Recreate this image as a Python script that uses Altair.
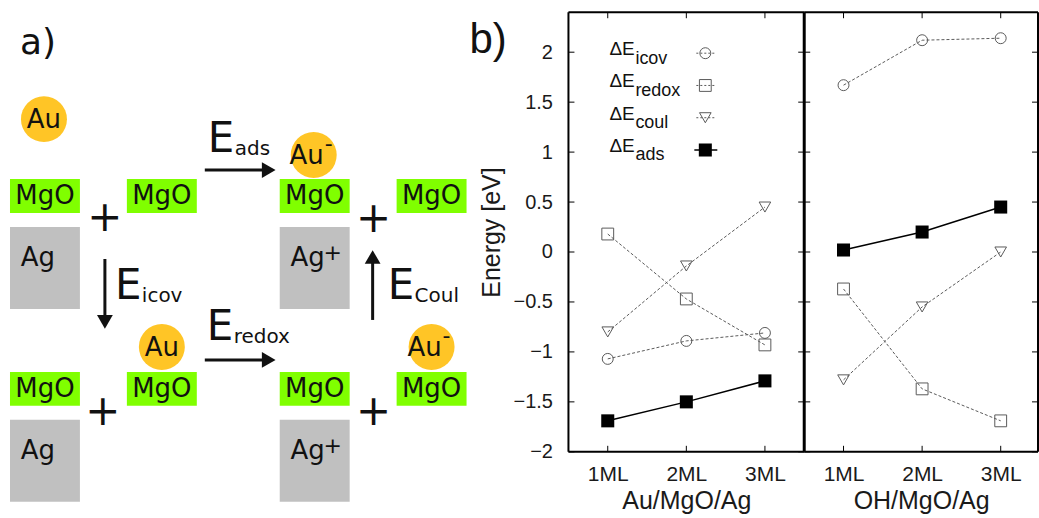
import altair as alt
import pandas as pd

# ---------------- energy decomposition (eV) vs. MgO thickness ----------------
ml = [1, 2, 3]
terms = ["icov", "redox", "coul", "ads"]
au_icov = [-1.07, -0.89, -0.81]
au_redox = [0.18, -0.47, -0.93]
au_coul = [-0.80, -0.14, 0.45]
au_ads = [-1.69, -1.50, -1.29]
oh_icov = [1.67, 2.12, 2.14]
oh_redox = [-0.37, -1.37, -1.69]
oh_coul = [-1.28, -0.55, 0.00]
oh_ads = [0.02, 0.20, 0.45]
energy_ticks = [-2, -1.5, -1, -0.5, 0, 0.5, 1, 1.5, 2]
ml_ticks = [1, 2, 3]

# ---------------- reaction scheme (sketch units, y grows downward) ----------------
mgo_x = [10, 127, 280, 397, 10, 127, 280, 397]
mgo_y = [177, 177, 177, 177, 370, 370, 370, 370]
ag_x = [10, 280, 10, 280]
ag_y = [225, 225, 418, 418]
ag_charge = ["", "+", "", "+"]
au_x = [44, 314, 162, 432]
au_y = [117, 153, 345, 345]
au_charge = ["", "-", "", "-"]
plus_x = [105, 374, 103, 374]
plus_y = [229, 230, 423, 423]
arrow_x0 = [205, 205, 105, 373]
arrow_y0 = [168, 358, 257, 318]
arrow_x1 = [276, 276, 105, 373]
arrow_y1 = [168, 358, 327, 248]
arrow_sub = ["ads", "redox", "icov", "Coul"]
arrow_lx = [208, 207, 115, 388]
arrow_ly = [150, 338, 297, 297]

MGO_W, MGO_H, AG_H = 70, 34, 82
GREEN, GRAY, GOLD = "#80ff00", "#c0c0c0", "#ffc526"
SKETCH_FONT = "DejaVu Sans"
PLOT_FONT = "Liberation Sans"
INK = "#111111"

SW, SH = 569, 440
SX = alt.Scale(domain=[0, SW], nice=False, zero=False)
SY = alt.Scale(domain=[SH + 10, 10], nice=False, zero=False)


def sx(f):
    return alt.X(f, scale=SX, axis=None)


def sy(f):
    return alt.Y(f, scale=SY, axis=None)


def sketch_text(df, size, align="center", font=SKETCH_FONT):
    return alt.Chart(df).mark_text(
        font=font, fontSize=size, align=align, baseline="alphabetic", color=INK
    ).encode(x=sx("x:Q"), y=sy("y:Q"), text="t:N")


mgo = pd.DataFrame({"x0": mgo_x, "y0": mgo_y})
mgo["x1"] = mgo.x0 + MGO_W
mgo["y1"] = mgo.y0 + MGO_H
ag = pd.DataFrame({"x0": ag_x, "y0": ag_y, "q": ag_charge})
ag["x1"] = ag.x0 + MGO_W
ag["y1"] = ag.y0 + AG_H
au = pd.DataFrame({"x": au_x, "y": au_y, "q": au_charge})

arrows = pd.DataFrame({"x0": arrow_x0, "y0": arrow_y0, "x1": arrow_x1, "y1": arrow_y1})
dx = (arrows.x1 - arrows.x0).clip(-1, 1)
dy = (arrows.y1 - arrows.y0).clip(-1, 1)
HEAD = 7
arrows["hx"] = arrows.x1 - dx * HEAD
arrows["hy"] = arrows.y1 - dy * HEAD
arrows["shape"] = [
    "triangle-right" if a > 0 else "triangle-left" if a < 0 else ("triangle-down" if b > 0 else "triangle-up")
    for a, b in zip(dx, dy)
]

rect_mgo = alt.Chart(mgo).mark_rect(color=GREEN).encode(
    x=sx("x0:Q"), x2="x1:Q", y=sy("y0:Q"), y2="y1:Q")
rect_ag = alt.Chart(ag).mark_rect(color=GRAY).encode(
    x=sx("x0:Q"), x2="x1:Q", y=sy("y0:Q"), y2="y1:Q")
atoms = alt.Chart(au).mark_circle(color=GOLD, opacity=1, size=46 * 46).encode(
    x=sx("x:Q"), y=sy("y:Q"))
shafts = alt.Chart(arrows).mark_rule(color=INK, strokeWidth=3).encode(
    x=sx("x0:Q"), x2="hx:Q", y=sy("y0:Q"), y2="hy:Q")
heads = alt.Chart(arrows).mark_point(filled=True, color=INK, opacity=1, size=250).encode(
    x=sx("hx:Q"), y=sy("hy:Q"), shape=alt.Shape("shape:N", scale=None))

mgo_lbl = pd.DataFrame({"x": mgo.x0 + MGO_W / 2, "y": mgo.y0 + 25, "t": "MgO"})
ag_lbl = pd.DataFrame({"x": ag.x0 + 28, "y": ag.y0 + 39, "t": "Ag"})
ag_q = pd.DataFrame({"x": ag.x0 + 53, "y": ag.y0 + 33, "t": ag.q})
ag_q = ag_q[ag_q.t != ""]
au_shift = [-7 if q else 0 for q in au.q]
au_lbl = pd.DataFrame({"x": au.x + au_shift, "y": au.y + 9, "t": "Au"})
au_q = pd.DataFrame({"x": au.x + 15, "y": au.y - 4, "t": au.q})
au_q = au_q[au_q.t != ""]
plus_lbl = pd.DataFrame({"x": plus_x, "y": plus_y, "t": "+"})
e_lbl = pd.DataFrame({"x": arrow_lx, "y": arrow_ly, "t": "E"})
e_sub = pd.DataFrame({"x": [v + 27 for v in arrow_lx], "y": [v + 3 for v in arrow_ly], "t": arrow_sub})
tag_a = pd.DataFrame({"x": [20], "y": [52], "t": ["a)"]})
tag_b = pd.DataFrame({"x": [470], "y": [51], "t": ["b)"]})

sketch = alt.layer(
    rect_mgo, rect_ag, atoms, shafts, heads,
    sketch_text(mgo_lbl, 26), sketch_text(ag_lbl, 26), sketch_text(ag_q, 22),
    sketch_text(au_lbl, 26), sketch_text(au_q, 22), sketch_text(plus_lbl, 42),
    sketch_text(e_lbl, 42, "left"), sketch_text(e_sub, 20, "left"),
    sketch_text(tag_a, 36, "left"), sketch_text(tag_b, 42, "left", PLOT_FONT),
).properties(width=SW, height=SH)

# ---------------- energy panels ----------------
PH = 440
STYLE = {
    "icov": dict(shape="circle", size=120, filled=False, color="#5a5a5a"),
    "redox": dict(shape="square", size=140, filled=False, color="#5a5a5a"),
    "coul": dict(shape="triangle-down", size=135, filled=False, color="#5a5a5a"),
    "ads": dict(shape="square", size=170, filled=True, color="#000000"),
}


def long_table(icov, redox, coul, ads):
    rows = []
    for term, vals in zip(terms, [icov, redox, coul, ads]):
        for m, v in zip(ml, vals):
            rows.append({"ml": m, "e": v, "term": term})
    return pd.DataFrame(rows)


def panel(df, title, width, left_axis, legend):
    xmax = 0.5 + 3 * width / 236
    xs = alt.Scale(domain=[0.5, xmax], nice=False, zero=False)
    ys = alt.Scale(domain=[-2, 2.4], nice=False, zero=False)
    xaxis = alt.Axis(values=ml_ticks, labelExpr="datum.value + 'ML'", title=title,
                     ticks=False, tickSize=0, domain=False, grid=False, labelAngle=0,
                     labelPadding=12, titlePadding=4, labelFontSize=21, titleFontSize=25)
    if left_axis:
        yaxis = alt.Axis(values=energy_ticks, labelExpr="format(datum.value, '~g')",
                         title="Energy [eV]", ticks=False, tickSize=0, domain=False, grid=False,
                         labelPadding=16, minExtent=56, maxExtent=56, titlePadding=8,
                         labelFontSize=20, titleFontSize=25)
    else:
        yaxis = None

    def X():
        return alt.X("ml:Q", scale=xs, axis=xaxis)

    def Y():
        return alt.Y("e:Q", scale=ys, axis=yaxis)

    dashed = alt.Chart(df[df.term != "ads"]).mark_line(
        strokeDash=[3, 2], color="#5a5a5a", strokeWidth=1
    ).encode(x=X(), y=Y(), detail="term:N")
    solid = alt.Chart(df[df.term == "ads"]).mark_line(color="#000000", strokeWidth=1.5).encode(
        x=X(), y=Y())
    layers = [dashed, solid]
    for term in terms:
        st = STYLE[term]
        layers.append(
            alt.Chart(df[df.term == term]).mark_point(
                shape=st["shape"], size=st["size"], filled=st["filled"], color=st["color"],
                opacity=1, strokeWidth=1
            ).encode(x=X(), y=Y())
        )

    ytk = pd.DataFrame({"e": energy_ticks})
    xtk = pd.DataFrame({"ml": ml_ticks})
    for a, b in [(0, 6), (width - 6, width)]:
        layers.append(alt.Chart(ytk).mark_rule(color="#000", strokeWidth=1).encode(
            y=Y(), x=alt.value(a), x2=alt.value(b)))
    for a, b in [(PH - 6, PH), (0, 6)]:
        layers.append(alt.Chart(xtk).mark_rule(color="#000", strokeWidth=1).encode(
            x=X(), y=alt.value(a), y2=alt.value(b)))

    one = pd.DataFrame({"k": [0]})
    frame = [
        (0, width, 0, 0, 2),
        (0, width, PH, PH, 2),
    ]
    if left_axis:
        frame += [(0, 0, 0, PH, 2), (width, width, 0, PH, 3)]
    else:
        frame += [(width, width, 0, PH, 2)]
    for x1, x2, y1, y2, w in frame:
        layers.append(alt.Chart(one).mark_rule(color="#000", strokeWidth=w).encode(
            x=alt.value(x1), x2=alt.value(x2), y=alt.value(y1), y2=alt.value(y2)))

    if legend:
        leg = pd.DataFrame({"term": terms, "row": range(len(terms))})
        leg["py"] = 41 + 32.3 * leg.row
        leg["ty"] = leg.py + 2
        leg["sy"] = leg.py + 10.5
        leg["d"] = "\u0394E"
        py = alt.Y("py:Q", scale=None)
        layers.append(alt.Chart(leg).mark_text(
            font=PLOT_FONT, fontSize=19, align="left", baseline="alphabetic", color=INK
        ).encode(x=alt.value(41), y=alt.Y("ty:Q", scale=None), text="d:N"))
        layers.append(alt.Chart(leg).mark_text(
            font=PLOT_FONT, fontSize=18, align="left", baseline="alphabetic", color=INK
        ).encode(x=alt.value(67), y=alt.Y("sy:Q", scale=None), text="term:N"))
        layers.append(alt.Chart(leg[leg.term != "ads"]).mark_rule(
            color="#5a5a5a", strokeWidth=1, strokeDash=[2, 2]
        ).encode(x=alt.value(128), x2=alt.value(146), y=py))
        layers.append(alt.Chart(leg[leg.term == "ads"]).mark_rule(
            color="#000000", strokeWidth=1.5
        ).encode(x=alt.value(126), x2=alt.value(149), y=py))
        for term in terms:
            st = STYLE[term]
            layers.append(alt.Chart(leg[leg.term == term]).mark_point(
                shape=st["shape"], size=st["size"], filled=st["filled"], color=st["color"],
                opacity=1, strokeWidth=1
            ).encode(x=alt.value(137), y=py))

    return alt.layer(*layers).properties(width=width, height=PH)


left = panel(long_table(au_icov, au_redox, au_coul, au_ads), "Au/MgO/Ag", 236, True, True)
right = panel(long_table(oh_icov, oh_redox, oh_coul, oh_ads), "OH/MgO/Ag", 234, False, False)

chart = alt.hconcat(sketch, left, right, spacing=0, bounds="flush").properties(
    padding={"left": 0, "top": 10, "right": 0, "bottom": 0}
).configure_view(stroke=None).configure_axis(
    labelFont=PLOT_FONT, titleFont=PLOT_FONT, labelColor="#1a1a1a", titleColor="#1a1a1a",
    titleFontWeight="normal"
)

chart.save("out.html", embed_options={"renderer": "svg", "actions": False})
